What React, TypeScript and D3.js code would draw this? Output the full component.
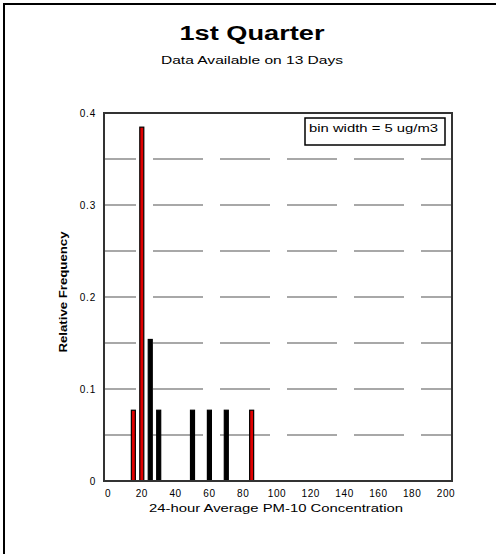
import React from "react";
import * as d3 from "d3";

const binCenters = [15, 20, 25, 30, 50, 60, 70, 85];
const binCounts = [1, 5, 2, 1, 1, 1, 1, 1];
const binHighlighted = [true, true, false, false, false, false, false, true];
const totalDays = 13;
const xTicks = [0, 20, 40, 60, 80, 100, 120, 140, 160, 180, 200];
const yTicks = [0, 0.1, 0.2, 0.3, 0.4];
const gridValues = [0.05, 0.1, 0.15, 0.2, 0.25, 0.3, 0.35];
const titleText = "1st Quarter";
const subtitleText = "Data Available on 13 Days";
const xLabel = "24-hour Average PM-10 Concentration";
const yLabel = "Relative Frequency";
const legendText = "bin width = 5 ug/m3";

export default function App() {
  const W = 496, H = 554;
  const frame = { left: 104, right: 452, top: 113, bottom: 481 };
  const x = d3.scaleLinear().domain([0, 200]).range([108, 446]);
  const y = d3.scaleLinear().domain([0, 0.4]).range([frame.bottom, frame.top]);
  const font = "'Liberation Sans', Arial, sans-serif";
  const fmtY = (v: number) => (v === 0 ? "0" : d3.format(".1f")(v));

  return (
    <svg width={W} height={H} style={{ position: "absolute", left: 0, top: 0, background: "#fff" }} fontFamily={font}>
      <rect x={0} y={0} width={W} height={H} fill="#fff" />
      {/* outer frame */}
      <line x1={4} y1={4} x2={W} y2={4} stroke="#000" strokeWidth={2} />
      <line x1={4} y1={3} x2={4} y2={H} stroke="#000" strokeWidth={2} />

      <text x={252} y={40} textAnchor="middle" fontSize={20} fontWeight="bold" textLength={145} lengthAdjust="spacingAndGlyphs">{titleText}</text>
      <text x={252} y={64} textAnchor="middle" fontSize={11} textLength={182} lengthAdjust="spacingAndGlyphs">{subtitleText}</text>

      {/* grid */}
      {gridValues.map((g) => (
        <line key={g} x1={frame.left} x2={frame.right} y1={y(g)} y2={y(g)} stroke="#8c8c8c" strokeWidth={1.3}
          strokeDasharray="50,17" strokeDashoffset={18} />
      ))}

      {/* bars */}
      {binCenters.map((c, i) => {
        const v = binCounts[i] / totalDays;
        return (
          <rect key={c} x={x(c) - 2} y={y(v)} width={4} height={y(0) - y(v)}
            fill={binHighlighted[i] ? "#e00000" : "#000"} stroke="#000" strokeWidth={1.2} />
        );
      })}

      {/* plot frame */}
      <rect x={frame.left} y={frame.top} width={frame.right - frame.left} height={frame.bottom - frame.top}
        fill="none" stroke="#333" strokeWidth={2} />

      {/* y ticks */}
      {yTicks.map((t) => (
        <text key={t} x={96} y={y(t) + 3.5} textAnchor="end" fontSize={10} letterSpacing={0.8}>{fmtY(t)}</text>
      ))}
      {/* x ticks */}
      {xTicks.map((t) => (
        <text key={t} x={x(t)} y={497} textAnchor="middle" fontSize={10} letterSpacing={0.6}>{t}</text>
      ))}

      <text x={276} y={512} textAnchor="middle" fontSize={11} textLength={254} lengthAdjust="spacingAndGlyphs">{xLabel}</text>
      <text transform={`translate(67,292) rotate(-90)`} textAnchor="middle" fontSize={10} fontWeight="bold" textLength={121} lengthAdjust="spacingAndGlyphs">{yLabel}</text>

      {/* legend */}
      <rect x={305} y={118} width={140} height={27} fill="#fff" stroke="#000" strokeWidth={1.5} />
      <text x={309} y={132} fontSize={10} textLength={129} lengthAdjust="spacingAndGlyphs">{legendText}</text>
    </svg>
  );
}
